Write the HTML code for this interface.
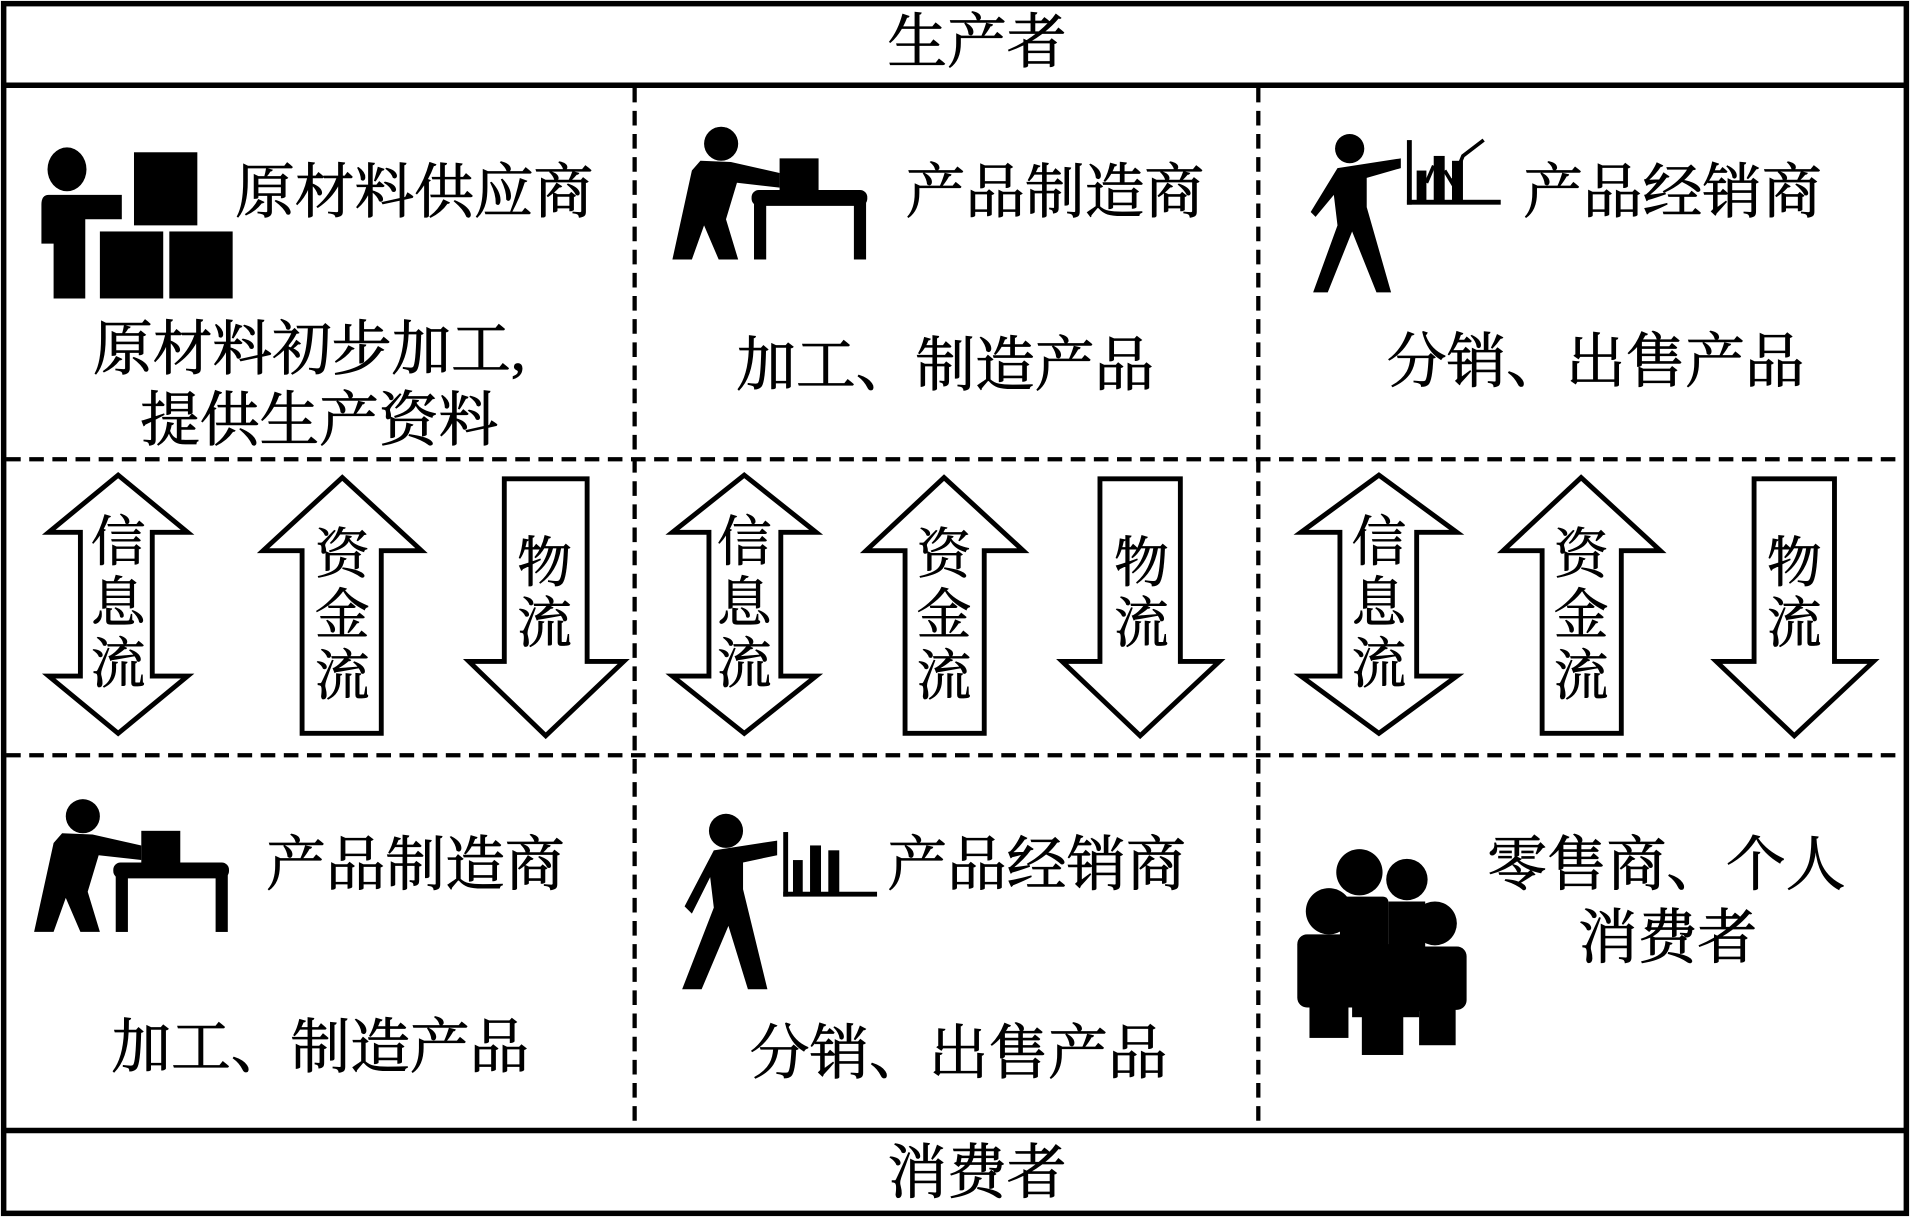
<!DOCTYPE html>
<html><head><meta charset="utf-8"><style>html,body{margin:0;padding:0;background:#fff}svg{display:block}</style></head>
<body>
<svg width="1910" height="1217" viewBox="0 0 1568 999" preserveAspectRatio="none" xmlns="http://www.w3.org/2000/svg">
<rect x="0" y="0" width="1568" height="999" fill="#fff"/>
<g font-family="'Liberation Serif','Noto Serif CJK SC',serif" fill="#000">
<rect x="3" y="3" width="1562" height="993" fill="none" stroke="#000" stroke-width="4.5"/>
<line x1="3" y1="70" x2="1565" y2="70" stroke="#000" stroke-width="4.5"/>
<line x1="3" y1="928" x2="1565" y2="928" stroke="#000" stroke-width="4.5"/>
<g stroke="#000" stroke-width="3.5" stroke-dasharray="12,7">
<line x1="5" y1="377" x2="1563" y2="377"/>
<line x1="5" y1="620" x2="1563" y2="620"/>
<line x1="521" y1="72" x2="521" y2="926"/>
<line x1="1033" y1="72" x2="1033" y2="926"/>
</g>
<g font-size="49" text-anchor="middle" dominant-baseline="central" stroke="#000" stroke-width="0.7">
<text x="802" y="35">生产者</text>
<text x="802" y="963">消费者</text>
<text x="340" y="158">原材料供应商</text>
<text x="254" y="287">原材料初步加工,</text>
<text x="262" y="345">提供生产资料</text>
<text x="866" y="158">产品制造商</text>
<text x="776" y="300">加工、制造产品</text>
<text x="1373" y="158">产品经销商</text>
<text x="1310" y="297">分销、出售产品</text>
<text x="341" y="710">产品制造商</text>
<text x="263" y="860">加工、制造产品</text>
<text x="851" y="710">产品经销商</text>
<text x="787" y="865">分销、出售产品</text>
<text x="1368" y="710">零售商、个人</text>
<text x="1369" y="770">消费者</text>
</g>
<g fill="#fff" stroke="#000" stroke-width="4" stroke-linejoin="miter">
<path d="M97,390 L154,437 L125,437 L125,555 L154,555 L97,602 L40,555 L66,555 L66,437 L40,437 Z"/>
<path d="M281,392 L346,452 L313,452 L313,602 L248,602 L248,452 L216,452 Z"/>
<path d="M414,393 L482,393 L482,543 L512,543 L448,604 L385,543 L414,543 Z"/>
<path d="M611,390 L670,437 L641,437 L641,555 L670,555 L611,602 L552,555 L582,555 L582,437 L552,437 Z"/>
<path d="M775,392 L840,452 L808,452 L808,602 L743,602 L743,452 L711,452 Z"/>
<path d="M903,393 L969,393 L969,543 L1001,543 L936,604 L872,543 L903,543 Z"/>
<path d="M1132,390 L1196,437 L1163,437 L1163,555 L1196,555 L1132,602 L1068,555 L1100,555 L1100,437 L1068,437 Z"/>
<path d="M1298,392 L1363,452 L1331,452 L1331,602 L1266,602 L1266,452 L1234,452 Z"/>
<path d="M1440,393 L1506,393 L1506,543 L1538,543 L1473,604 L1409,543 L1440,543 Z"/>
</g>
<g font-size="45" text-anchor="middle" dominant-baseline="central" stroke="#000" stroke-width="0.6">
<text x="97" y="445">信</text><text x="97" y="495">息</text><text x="97" y="545">流</text>
<text x="281" y="455">资</text><text x="281" y="505">金</text><text x="281" y="555">流</text>
<text x="447" y="462">物</text><text x="447" y="512">流</text>
<text x="611" y="445">信</text><text x="611" y="495">息</text><text x="611" y="545">流</text>
<text x="775" y="455">资</text><text x="775" y="505">金</text><text x="775" y="555">流</text>
<text x="937" y="462">物</text><text x="937" y="512">流</text>
<text x="1132" y="445">信</text><text x="1132" y="495">息</text><text x="1132" y="545">流</text>
<text x="1298" y="455">资</text><text x="1298" y="505">金</text><text x="1298" y="555">流</text>
<text x="1473" y="462">物</text><text x="1473" y="512">流</text>
</g>
<ellipse cx="55" cy="139" rx="16" ry="18"/>
<path d="M40,160 L100,160 L100,180 L70,180 L70,245 L44,245 L44,200 L34,200 L34,168 Q34,160 40,160 Z"/>
<rect x="110" y="125" width="52" height="60"/>
<rect x="82" y="190" width="52" height="55"/>
<rect x="139" y="190" width="52" height="55"/>
<g id="mfg">
<circle cx="592" cy="118" r="14"/>
<path d="M575,132 L600,133 L640,142 L640,154 L605,150 L596,180 L606,213 L590,213 L578,185 L568,213 L552,213 L568,140 Z"/>
<rect x="640" y="130" width="32" height="26"/>
<rect x="617" y="156" width="95" height="13" rx="6"/>
<rect x="619" y="160" width="10" height="53"/>
<rect x="701" y="160" width="10" height="53"/>
</g>
<use href="#mfg" transform="translate(-524,552)"/>
<g id="dist">
<circle cx="1108" cy="122" r="12"/>
<path d="M1098,138 L1150,130 L1150,138 L1122,146 L1122,170 L1142,240 L1130,240 L1110,190 L1090,240 L1078,240 L1098,185 L1095,160 L1080,178 L1076,174 Z"/>
<rect x="1155" y="115" width="4" height="53"/>
<rect x="1155" y="164" width="77" height="4"/>
<rect x="1163" y="140" width="8" height="26"/>
<rect x="1177" y="128" width="9" height="38"/>
<rect x="1192" y="132" width="9" height="34"/>
<path d="M1171,150 L1177,136 M1186,140 L1192,150 L1201,128 L1218,115" stroke="#000" stroke-width="3" fill="none"/>
</g>
<g transform="translate(-512,560)">
<circle cx="1108" cy="122" r="14"/>
<path d="M1098,138 L1150,130 L1150,142 L1122,148 L1122,170 L1142,252 L1126,252 L1110,200 L1088,252 L1072,252 L1098,185 L1095,160 L1080,190 L1074,184 Z"/>
<rect x="1155" y="123" width="4" height="53"/>
<rect x="1155" y="172" width="77" height="4"/>
<rect x="1163" y="146" width="8" height="28"/>
<rect x="1177" y="134" width="9" height="40"/>
<rect x="1192" y="138" width="9" height="36"/>
</g>
<circle cx="1116" cy="716" r="19"/>
<circle cx="1155" cy="722" r="17"/>
<circle cx="1091" cy="748" r="19"/>
<circle cx="1178" cy="758" r="18"/>
<path d="M1100,736 L1135,736 Q1140,736 1140,742 L1140,820 L1100,820 Z"/>
<path d="M1140,740 L1170,740 L1170,830 L1140,830 Z"/>
<rect x="1065" y="767" width="55" height="60" rx="8"/>
<rect x="1075" y="820" width="32" height="32"/>
<rect x="1160" y="777" width="44" height="52" rx="8"/>
<rect x="1165" y="820" width="30" height="38"/>
<rect x="1110" y="775" width="55" height="60"/>
<rect x="1118" y="830" width="34" height="36"/>
</g>
</svg>
</body></html>
